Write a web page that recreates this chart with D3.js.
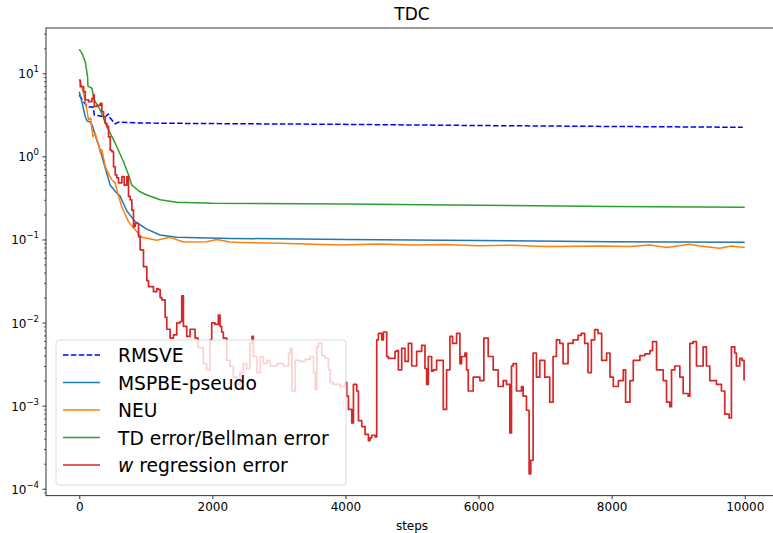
<!DOCTYPE html>
<html>
<head>
<meta charset="utf-8">
<script src="https://cdn.jsdelivr.net/npm/d3@7"></script>
<style>
  body { margin: 0; background: #fff; }
  text { font-family: "DejaVu Sans", sans-serif; }
</style>
</head>
<body>
<script>
// values, [step, value]
const rmsve = [[0,5.48],[60,4.6],[120,3.93],[210,3.93],[225,3.15],[390,2.98],[435,3.24],[465,2.89],[540,2.46],[585,2.58],[915,2.52],[2000,2.48],[3920,2.43],[6000,2.35],[8000,2.29],[9970,2.24]];

const mspbe = [[0,6.0],[40,4.5],[90,3.0],[120,2.65],[165,2.6],[200,2.3],[260,1.6],[320,1.15],[365,0.85],[420,0.6],[465,0.45],[540,0.38],[615,0.33],[715,0.22],[840,0.164],[1015,0.133],[1215,0.113],[1465,0.106],[2265,0.103],[4000,0.1],[6000,0.097],[8000,0.094],[10000,0.0925]];

const neu = [[0,8.5],[55,6.2],[80,5.0],[105,3.96],[140,2.75],[170,2.9],[205,1.73],[240,1.9],[265,1.58],[290,1.4],[315,1.09],[340,1.2],[390,0.75],[440,0.62],[490,0.52],[540,0.48],[590,0.33],[640,0.248],[690,0.2],[740,0.164],[815,0.137],[940,0.106],[1165,0.098],[1365,0.106],[1565,0.093],[1915,0.094],[2065,0.1],[2265,0.093],[2415,0.092],[3000,0.09],[3920,0.086],[4500,0.088],[5000,0.086],[5500,0.087],[6000,0.084],[6500,0.085],[7000,0.082],[7500,0.083],[7820,0.0836],[8275,0.0822],[8575,0.0855],[8825,0.08],[9175,0.0877],[9325,0.0836],[9625,0.0784],[9800,0.0836],[10000,0.08]];

const tdErr = [[0,19.4],[40,17.4],[90,13.8],[125,9.0],[130,7.0],[190,6.6],[225,4.8],[315,3.6],[415,2.27],[540,1.44],[665,0.86],[740,0.6],[790,0.45],[900,0.38],[1015,0.343],[1215,0.3],[1465,0.28],[2000,0.272],[4000,0.267],[6000,0.258],[8000,0.25],[10000,0.244]];

const wReg = [[5,8.3],[15,6.9],[65,6.0],[90,4.8],[140,4.55],[190,5.0],[215,5.5],[225,4.0],[270,4.1],[315,4.35],[340,3.45],[365,3.0],[390,2.5],[415,2.3],[440,1.72],[465,1.19],[490,1.14],[515,0.75],[540,0.6],[565,0.55],[590,0.48],[640,0.57],[675,0.45],[715,0.57],[740,0.33],[765,0.3],[790,0.226],[815,0.143],[840,0.156],[890,0.108],[915,0.075],[965,0.047],[1015,0.032],[1040,0.027],[1065,0.027],[1115,0.0236],[1165,0.0257],[1190,0.025],[1215,0.02],[1240,0.0187],[1290,0.0116],[1315,0.0083],[1365,0.0065],[1415,0.0071],[1465,0.0099],[1515,0.0103],[1540,0.021],[1565,0.009],[1615,0.0068],[1665,0.0083],[1740,0.0065],[1785,0.005],[1865,0.0032],[1915,0.0027],[1965,0.0062],[1990,0.0099],[2040,0.0095],[2090,0.0123],[2115,0.009],[2140,0.0077],[2165,0.0065],[2215,0.0035],[2265,0.003],[2315,0.0022],[2365,0.0018],[2415,0.0025],[2465,0.0032],[2515,0.0028],[2565,0.0056],[2595,0.0068],[2615,0.0039],[2670,0.0025],[2720,0.0039],[2765,0.0032],[2820,0.0035],[2870,0.003],[2970,0.0032],[3070,0.003],[3145,0.0043],[3170,0.0049],[3195,0.0015],[3245,0.0035],[3320,0.0034],[3395,0.0036],[3470,0.0039],[3520,0.0025],[3545,0.00157],[3570,0.0051],[3595,0.0056],[3645,0.004],[3695,0.0037],[3745,0.0027],[3770,0.0019],[3820,0.0018],[3920,0.0017],[3995,0.0019],[4020,0.0013],[4045,0.0009],[4095,0.00062],[4120,0.0018],[4170,0.0015],[4195,0.00066],[4245,0.00056],[4295,0.00045],[4345,0.00038],[4370,0.00041],[4395,0.00044],[4445,0.00042],[4470,0.0062],[4495,0.0074],[4545,0.0062],[4570,0.0077],[4620,0.0039],[4645,0.0037],[4695,0.0037],[4745,0.0045],[4770,0.0046],[4795,0.0027],[4845,0.0049],[4895,0.0034],[4945,0.0056],[4995,0.003],[5070,0.0045],[5145,0.0053],[5195,0.0028],[5220,0.0018],[5245,0.0039],[5295,0.0026],[5320,0.0027],[5370,0.0035],[5420,0.0035],[5470,0.0009],[5520,0.0027],[5570,0.0068],[5610,0.0056],[5670,0.0074],[5720,0.0032],[5745,0.0039],[5795,0.0043],[5820,0.0027],[5845,0.0015],[5920,0.0022],[6020,0.002],[6080,0.0065],[6145,0.0039],[6220,0.0027],[6295,0.0017],[6370,0.002],[6420,0.0018],[6470,0.00047],[6495,0.003],[6520,0.0032],[6570,0.0015],[6645,0.0017],[6670,0.0013],[6720,0.00088],[6760,0.000151],[6785,0.00022],[6820,0.0043],[6870,0.0022],[6920,0.0035],[6995,0.0022],[7070,0.0011],[7120,0.0039],[7170,0.0062],[7220,0.0056],[7270,0.0032],[7345,0.0056],[7420,0.0062],[7495,0.007],[7545,0.0074],[7595,0.0056],[7645,0.0025],[7695,0.0062],[7745,0.0082],[7795,0.0074],[7850,0.0035],[7925,0.0043],[7975,0.0022],[8025,0.0017],[8100,0.002],[8175,0.0027],[8210,0.0011],[8275,0.002],[8325,0.0035],[8425,0.004],[8500,0.0042],[8575,0.0046],[8615,0.0059],[8675,0.0027],[8775,0.002],[8825,0.0011],[8875,0.00097],[8900,0.0027],[8950,0.003],[9025,0.0022],[9075,0.0014],[9150,0.0013],[9175,0.0056],[9225,0.0059],[9275,0.003],[9375,0.0051],[9425,0.003],[9475,0.002],[9575,0.0018],[9650,0.0015],[9700,0.00079],[9765,0.00071],[9800,0.0051],[9850,0.0043],[9875,0.003],[9925,0.0037],[9960,0.0035],[9990,0.002]];

const xTicks = [0, 2000, 4000, 6000, 8000, 10000];
const yExponents = [-4, -3, -2, -1, 0, 1];
const legendLabels = ["RMSVE", "MSPBE-pseudo", "NEU", "TD error/Bellman error", "w regression error"];

const W = 773, H = 533;
const mLeft = 46, mRight = 778, mTop = 28, mBottom = 495.7;

const svg = d3.select("body").append("svg")
    .attr("width", W)
    .attr("height", H);

const x = d3.scaleLinear().domain([-500, 10500]).range([mLeft, mRight]);
const y = d3.scaleLog().domain([Math.pow(10, -4.084), Math.pow(10, 1.545)]).range([mBottom, mTop]);

svg.append("defs").append("clipPath").attr("id", "clip")
    .append("rect").attr("x", mLeft).attr("y", mTop)
    .attr("width", mRight - mLeft).attr("height", mBottom - mTop);

const series = [
    { data: rmsve, color: "#0000ff", dash: "5.5,2.4", width: 1.5 },
    { data: mspbe, color: "#1f77b4", width: 1.5 },
    { data: neu, color: "#ff7f0e", width: 1.5 },
    { data: tdErr, color: "#2ca02c", width: 1.5 },
    { data: wReg, color: "#d62728", width: 1.7, step: true }
];

const line = d3.line().x(d => x(d[0])).y(d => y(d[1]));
const stepLine = d3.line().x(d => x(d[0])).y(d => y(d[1])).curve(d3.curveStepAfter);

const plot = svg.append("g").attr("clip-path", "url(#clip)");
series.forEach(s => {
    plot.append("path")
        .datum(s.data)
        .attr("fill", "none")
        .attr("stroke", s.color)
        .attr("stroke-width", s.width)
        .attr("stroke-dasharray", s.dash || null)
        .attr("stroke-linejoin", "round")
        .attr("d", s.step ? stepLine : line);
});

// x axis
const xAxis = svg.append("g")
    .attr("transform", `translate(0,${mBottom})`)
    .call(d3.axisBottom(x).tickValues(xTicks).tickSize(3.5).tickPadding(3.5).tickFormat(d3.format("d")));
xAxis.select(".domain").remove();
xAxis.selectAll("text").attr("font-size", 12).attr("fill", "#000").attr("font-family", "DejaVu Sans");
xAxis.selectAll("line").attr("stroke-width", 0.8);

// y axis minor ticks
const minor = [];
for (let e = -5; e <= 1; e++) for (let m = 2; m <= 9; m++) {
    const v = m * Math.pow(10, e);
    if (v >= y.domain()[0] && v <= y.domain()[1]) minor.push(v);
}
const yMinor = svg.append("g")
    .attr("transform", `translate(${mLeft},0)`)
    .call(d3.axisLeft(y).tickValues(minor).tickSize(2).tickFormat(""));
yMinor.select(".domain").remove();
yMinor.selectAll("line").attr("stroke-width", 0.6);

const yMajor = svg.append("g")
    .attr("transform", `translate(${mLeft},0)`)
    .call(d3.axisLeft(y).tickValues(yExponents.map(e => Math.pow(10, e))).tickSize(3.5).tickFormat(""));
yMajor.select(".domain").remove();
yMajor.selectAll("line").attr("stroke-width", 0.8);

const yLab = svg.append("g");
yExponents.forEach(e => {
    const t = yLab.append("text")
        .attr("x", mLeft - 7)
        .attr("y", y(Math.pow(10, e)) + 5)
        .attr("text-anchor", "end")
        .attr("font-size", 12)
        .attr("fill", "#000");
    t.append("tspan").text("10");
    t.append("tspan").attr("dy", -6).attr("font-size", 8.5).text(e < 0 ? "\u2212" + (-e) : String(e));
});

// spines
svg.append("rect")
    .attr("x", mLeft).attr("y", mTop)
    .attr("width", mRight - mLeft).attr("height", mBottom - mTop)
    .attr("fill", "none").attr("stroke", "#000").attr("stroke-width", 0.8);

// title and x label
svg.append("text").attr("x", (mLeft + mRight) / 2).attr("y", 20)
    .attr("text-anchor", "middle").attr("font-size", 17).text("TDC");
svg.append("text").attr("x", (mLeft + mRight) / 2).attr("y", 530)
    .attr("text-anchor", "middle").attr("font-size", 12).text("steps");

// legend
const lg = svg.append("g");
lg.append("rect")
    .attr("x", 56).attr("y", 340).attr("width", 290).attr("height", 145)
    .attr("rx", 3)
    .attr("fill", "#fff").attr("fill-opacity", 0.8)
    .attr("stroke", "#d0d0d0").attr("stroke-width", 0.8);
legendLabels.forEach((lab, i) => {
    const yy = 355 + i * 27.5;
    lg.append("line")
        .attr("x1", 63).attr("x2", 100).attr("y1", yy).attr("y2", yy)
        .attr("stroke", series[i].color).attr("stroke-width", 1.5)
        .attr("stroke-dasharray", series[i].dash || null);
    const t = lg.append("text").attr("x", 118).attr("y", yy + 7)
        .attr("font-size", 18.7).attr("fill", "#000");
    if (i === 4) {
        t.append("tspan").attr("font-style", "italic").text("w");
        t.append("tspan").text(" regression error");
    } else {
        t.text(lab);
    }
});
</script>
</body>
</html>
